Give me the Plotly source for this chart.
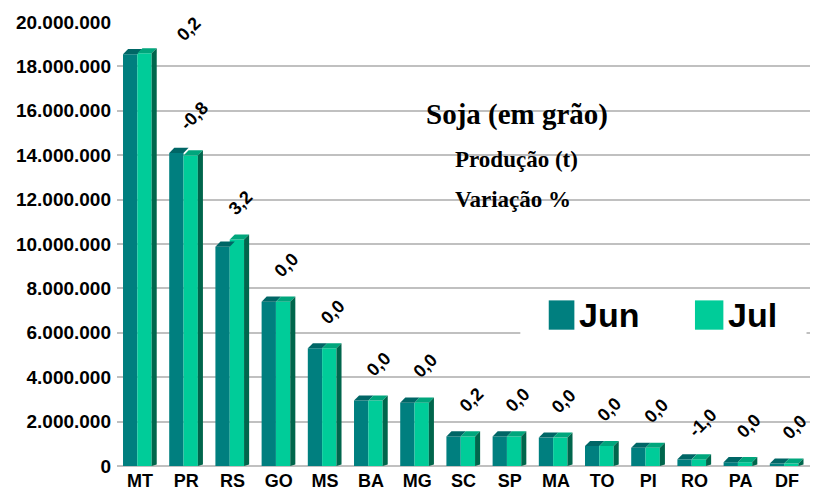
import plotly.graph_objects as go

states = ["MT", "PR", "RS", "GO", "MS", "BA", "MG", "SC", "SP", "MA", "TO", "PI", "RO", "PA", "DF"]
jun = [18550000, 14100000, 9880000, 7400000, 5300000, 2950000, 2850000, 1330000, 1330000, 1280000,
       900000, 820000, 300000, 170000, 110000]
jul = [18590000, 13990000, 10200000, 7400000, 5300000, 2950000, 2850000, 1330000, 1330000, 1280000,
       900000, 820000, 297000, 170000, 110000]
variation = ["0,2", "-0,8", "3,2", "0,0", "0,0", "0,0", "0,0", "0,2", "0,0", "0,0", "0,0", "0,0", "-1,0", "0,0", "0,0"]

JUN_COLOR = "#007F7F"
JUL_COLOR = "#00CC99"
JUN_TOP = "#006666"
JUL_TOP = "#00A67C"
SIDE = "#00664C"
FONT = "Arial, Liberation Sans, sans-serif"
SERIF = "Liberation Serif, Times New Roman, serif"

xs = list(range(len(states)))
W = 0.31
OFF_JUN = -0.37
OFF_JUL = -0.06
DX = 0.11
DY = 230000

fig = go.Figure()
fig.add_trace(go.Bar(x=xs, y=jun, name="Jun", width=W, offset=OFF_JUN,
                     marker=dict(color=JUN_COLOR, line=dict(width=0))))
fig.add_trace(go.Bar(x=xs, y=jul, name="Jul", width=W, offset=OFF_JUL,
                     marker=dict(color=JUL_COLOR, line=dict(width=0))))

# fake 3D: top and side faces from the same values
shapes = []
for i in xs:
    a0, a1 = i + OFF_JUN, i + OFF_JUN + W
    b0, b1 = i + OFF_JUL, i + OFF_JUL + W
    vj, vl = jun[i], jul[i]
    shapes.append(dict(type="path", xref="x", yref="y", layer="above", line=dict(width=0),
                       fillcolor=JUN_TOP,
                       path=f"M{a0},{vj} L{a0+DX},{vj+DY} L{a1+DX},{vj+DY} L{a1},{vj} Z"))
    shapes.append(dict(type="path", xref="x", yref="y", layer="above", line=dict(width=0),
                       fillcolor=JUL_TOP,
                       path=f"M{b0},{vl} L{b0+DX},{vl+DY} L{b1+DX},{vl+DY} L{b1},{vl} Z"))
    shapes.append(dict(type="path", xref="x", yref="y", layer="above", line=dict(width=0),
                       fillcolor=SIDE,
                       path=f"M{b1},0 L{b1+DX},{DY*0.3} L{b1+DX},{vl+DY} L{b1},{vl} Z"))

# legend box drawn by hand (big squares)
shapes.append(dict(type="rect", xref="paper", yref="paper", x0=0.582, x1=0.995, y0=0.27, y1=0.393,
                   fillcolor="white", line=dict(width=0), layer="above"))
shapes.append(dict(type="rect", xref="paper", yref="paper", x0=0.623, x1=0.66, y0=0.307, y1=0.373,
                   fillcolor=JUN_COLOR, line=dict(width=0), layer="above"))
shapes.append(dict(type="rect", xref="paper", yref="paper", x0=0.834, x1=0.875, y0=0.307, y1=0.373,
                   fillcolor=JUL_COLOR, line=dict(width=0), layer="above"))

annotations = []
for i in xs:
    top = max(jun[i], jul[i])
    y = min(top + 1650000, 19700000)
    dx = 0.17 if top + 1650000 < 19700000 else 1.05
    annotations.append(dict(x=i + dx, y=y, xref="x", yref="y", text=f"<b>{variation[i]}</b>",
                            showarrow=False, textangle=-45, font=dict(family=FONT, size=18, color="black")))

titles = [("Soja (em grão)", 0.577, 0.833, 29), ("Produção (t)", 0.576, 0.723, 23), ("Variação %", 0.571, 0.601, 23)]
for txt, x, y, s in titles:
    annotations.append(dict(x=x, y=y, xref="paper", yref="paper", text=f"<b>{txt}</b>", showarrow=False,
                            font=dict(family=SERIF, size=s, color="black")))

annotations.append(dict(x=0.664, y=0.341, xref="paper", yref="paper", xanchor="left", text="<b>Jun</b>",
                        showarrow=False, font=dict(family=FONT, size=34, color="black")))
annotations.append(dict(x=0.879, y=0.341, xref="paper", yref="paper", xanchor="left", text="<b>Jul</b>",
                        showarrow=False, font=dict(family=FONT, size=34, color="black")))

fig.update_layout(
    width=815, height=492,
    barmode="overlay",
    showlegend=False,
    separators=",.",
    plot_bgcolor="white",
    paper_bgcolor="white",
    margin=dict(l=117, r=5, t=22, b=26, autoexpand=False),
    shapes=shapes,
    annotations=annotations,
    xaxis=dict(tickvals=xs, ticktext=[f"<b>{s}</b>" for s in states], range=[-0.5, len(states) - 0.5],
               showgrid=False, zeroline=False, showline=False, ticks="", ticklabelstandoff=2,
               tickfont=dict(family=FONT, size=18, color="black")),
    yaxis=dict(range=[0, 20000000], dtick=2000000, tickformat=",d",
               showgrid=True, gridcolor="#C0C0C0", gridwidth=2, zeroline=True, zerolinecolor="#C0C0C0",
               zerolinewidth=2, showline=False, ticks="", ticklabelstandoff=5,
               tickprefix="<b>", ticksuffix="</b>",
               tickfont=dict(family=FONT, size=19, color="black")),
)

fig.write_html("out.html", config={"displayModeBar": False},
               post_script="document.body.style.margin='0';document.body.style.padding='0';")
